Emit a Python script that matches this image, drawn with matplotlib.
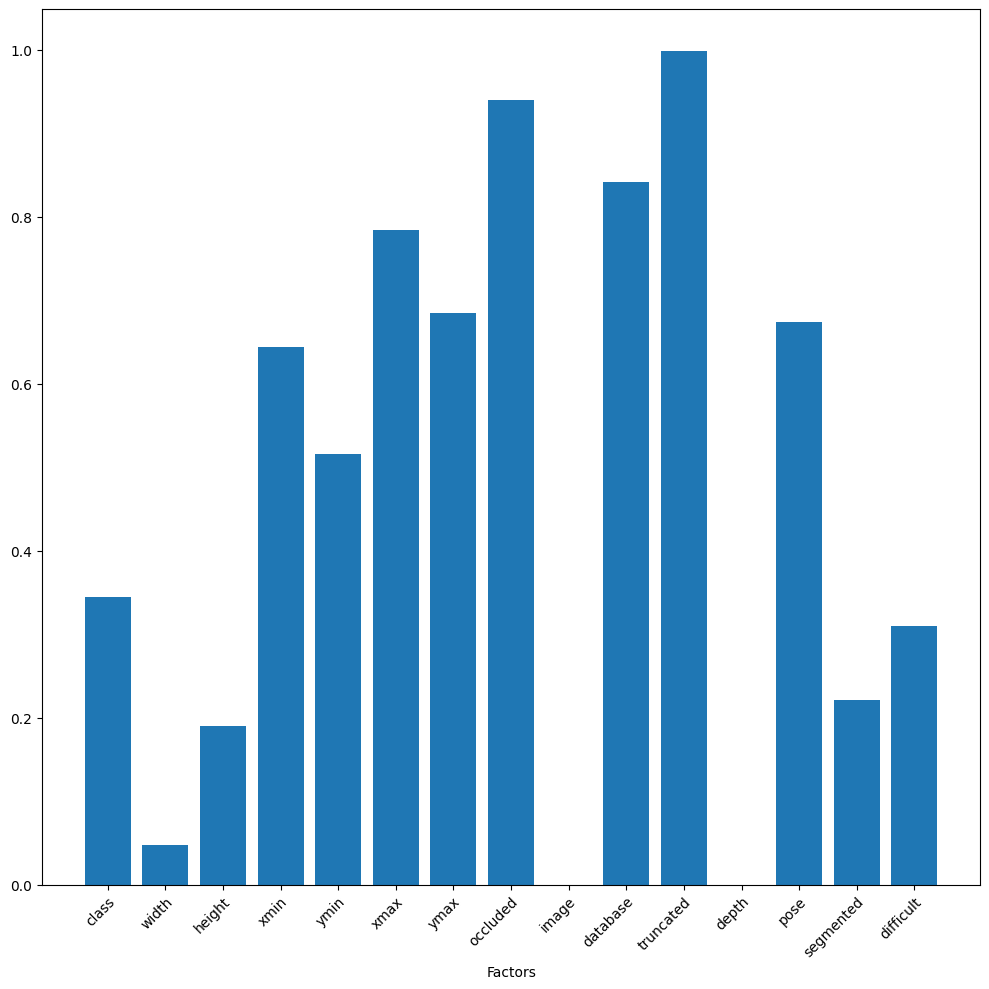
import matplotlib
matplotlib.use("Agg")
import matplotlib.pyplot as plt

factors = ["class", "width", "height", "xmin", "ymin", "xmax", "ymax", "occluded",
           "image", "database", "truncated", "depth", "pose", "segmented", "difficult"]
scores = [0.345, 0.048, 0.191, 0.644, 0.517, 0.785, 0.685, 0.941,
          0.0, 0.842, 0.999, 0.0, 0.675, 0.222, 0.311]

fig, ax = plt.subplots(figsize=(9.89, 9.89), dpi=100)
ax.bar(factors, scores, color="#1f77b4")
ax.set_xlabel("Factors")
plt.setp(ax.get_xticklabels(), rotation=45, ha="right", rotation_mode="anchor")
fig.subplots_adjust(left=0.0425, right=0.991, top=0.9905, bottom=0.105)
fig.savefig("out.png")
